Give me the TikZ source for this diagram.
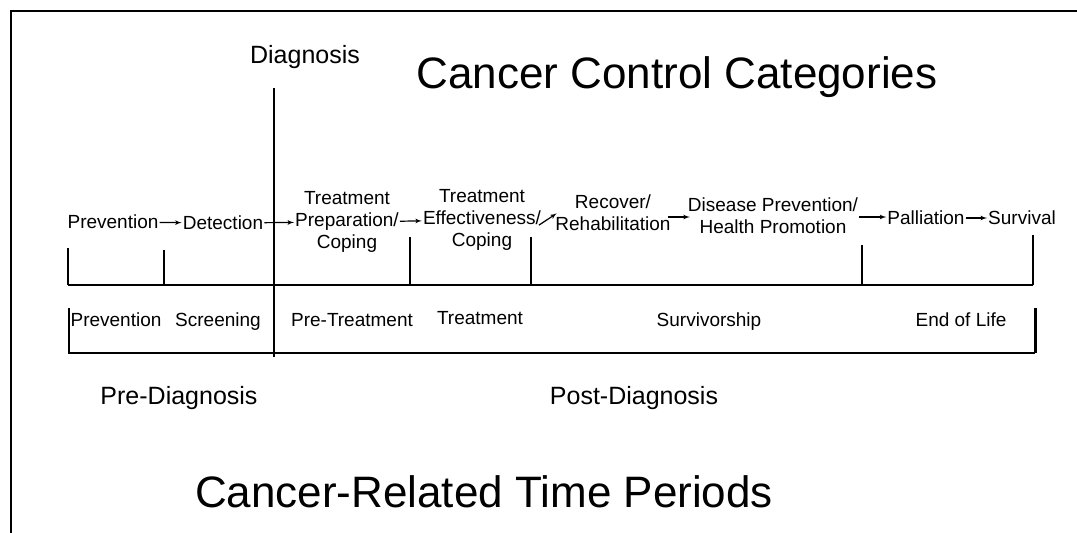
\documentclass[tikz,border=0pt]{standalone}
\usepackage{fontspec}
\setmainfont{Liberation Sans}
\usepackage{tikz}
\usetikzlibrary{arrows,positioning}
\tikzset{
catlabel/.style={
  inner sep=1pt,
  align=center,
  font=\fontsize{19}{22}\selectfont},
perlabel/.style={
  inner sep=1pt,
  text depth=0pt,
  font=\fontsize{19}{22}\selectfont},
phase/.style={
  inner sep=1pt,
  font=\fontsize{25}{28}\selectfont},
heading/.style={
  inner sep=1pt,
  font=\fontsize{44}{48}\selectfont},
line/.style={draw, line width=1.2pt, -latex'},
tight/.style={shorten <=-4pt, shorten >=-3pt},
bar/.style={draw, line width=1.8pt},
frame/.style={draw, line width=1.4pt}
}
\begin{document}
\begin{tikzpicture}[x=1pt,y=-1pt]
    \useasboundingbox (0,0) rectangle (1077,533);
    \draw [frame] (11,533) -- (11,11) -- (1077,11);
    % headings
    \node [heading] (ccc) at (677,77) {Cancer Control Categories};
    \node [heading] (crtp) at (484,492) {Cancer-Related Time Periods};
    \node [phase] (diag) at (305,57) {Diagnosis};
    \node [phase] (prediag) at (179,398) {Pre-Diagnosis};
    \node [phase] (postdiag) at (634,398) {Post-Diagnosis};
    % diagnosis line
    \coordinate (diagtop) at (274,88);
    \coordinate (diagbot) at (274,357);
    \draw [bar] (diagtop) -- (diagbot);
    % control categories
    \node [catlabel] (catprev) at (113,222) {Prevention};
    \node [catlabel] (catdet) at (223,223) {Detection};
    \node [catlabel] (catprep) at (347,222) {Treatment\\Preparation/\\Coping};
    \node [catlabel] (cateff) at (482,220) {Treatment\\Effectiveness/\\Coping};
    \node [catlabel] (catrec) at (613,213) {Recover/\\Rehabilitation};
    \node [catlabel] (catdis) at (773,216) {Disease Prevention/\\Health Promotion};
    \node [catlabel] (catpal) at (926,218) {Palliation};
    \node [catlabel] (catsur) at (1022,218) {Survival};
    \path [line] (catprev) -- (catdet);
    \path [line] (catdet) -- (catprep);
    \path [line] (catprep) -- (cateff);
    \path [line, tight] ([yshift=-3pt]cateff.east) -- ([yshift=-2pt]catrec.west);
    \path [line, tight] ([yshift=-4pt]catrec.east) -- ([yshift=-4pt]catrec.east -| catdis.west);
    \path [line] ([yshift=-1pt]catdis.east) -- ([yshift=-1pt]catdis.east -| catpal.west);
    \path [line] (catpal) -- (catsur);
    \draw [bar] (68,285) -- (1033,285);
    \foreach \x/\y in {68/248,164/250,410/237,531/237,862/245,1033/235}
      \draw [bar] (\x,\y) -- (\x,285);
    % time periods
    \node [perlabel] (perprev) at (116,320) {Prevention};
    \node [perlabel] (perscr) at (218,320) {Screening};
    \node [perlabel] (perpre) at (352,320) {Pre-Treatment};
    \node [perlabel] (pertreat) at (480,318) {Treatment};
    \node [perlabel] (persurv) at (709,320) {Survivorship};
    \node [perlabel] (pereol) at (961,320) {End of Life};
    \draw [bar] (69,308) -- (69,353) -- (1035,353);
    \draw [draw, line width=3pt] (1035,308) -- (1035,353);
\end{tikzpicture}
\end{document}
